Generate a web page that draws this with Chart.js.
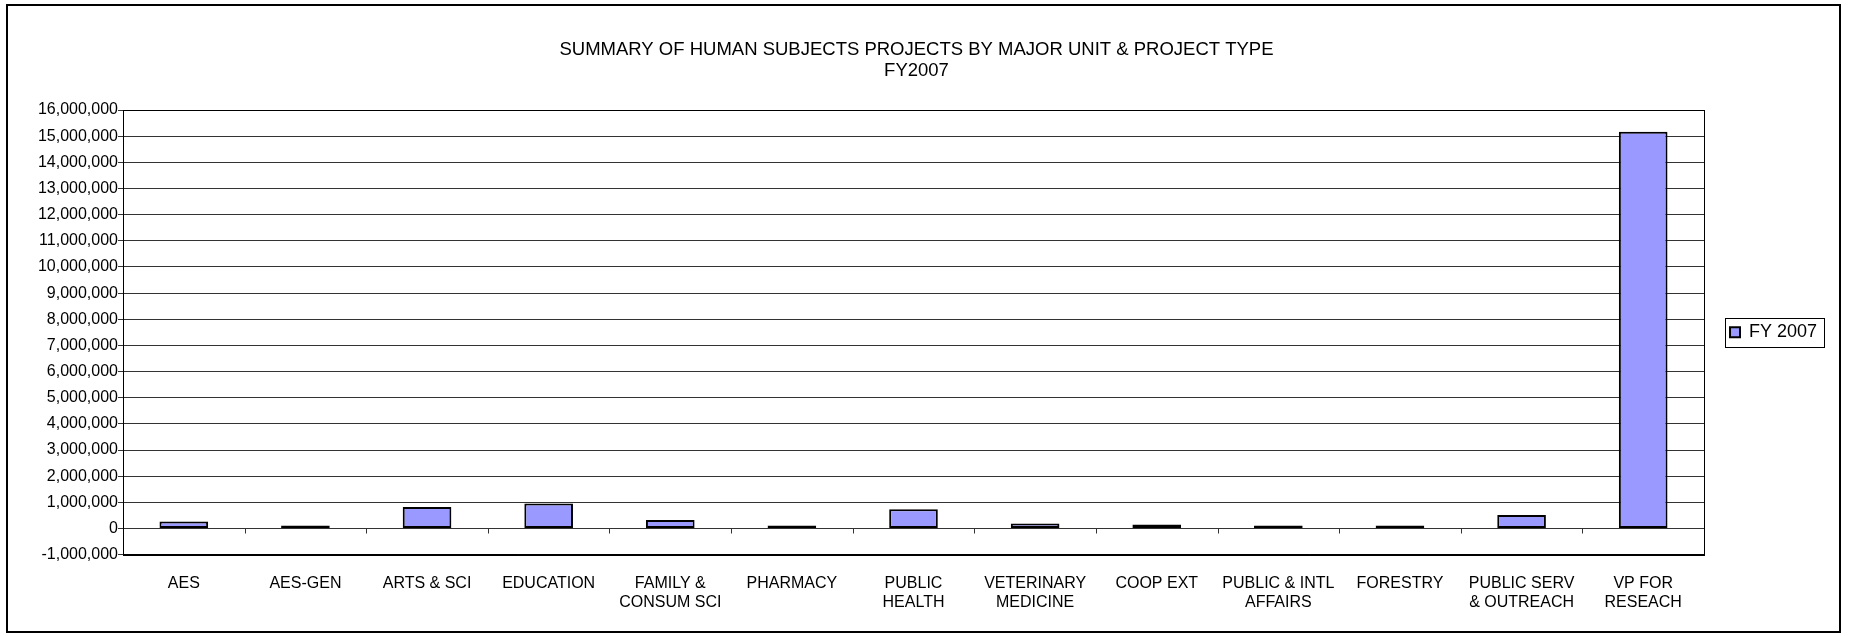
<!DOCTYPE html>
<html>
<head>
<meta charset="utf-8">
<title>Human Subjects Projects FY2007</title>
<script src="https://cdn.jsdelivr.net/npm/chart.js@4.4.0/dist/chart.umd.min.js"></script>
<style>
  html, body { margin: 0; padding: 0; background: #fff; }
  #frame { position: absolute; left: 6px; top: 4px; width: 1831px; height: 625px; border: 2px solid #000; }
  canvas { display: block; }
</style>
</head>
<body>
<div id="frame"><canvas id="unitChart" width="1831" height="625"></canvas></div>
<script>
// chart data
const units = [
	['AES'], ['AES-GEN'], ['ARTS & SCI'], ['EDUCATION'], ['FAMILY &', 'CONSUM SCI'],
	['PHARMACY'], ['PUBLIC', 'HEALTH'], ['VETERINARY', 'MEDICINE'], ['COOP EXT'],
	['PUBLIC & INTL', 'AFFAIRS'], ['FORESTRY'], ['PUBLIC SERV', '& OUTREACH'], ['VP FOR', 'RESEACH'],
];
const fy2007 = [270000, 30000, 820000, 950000, 320000, 70000, 730000, 190000, 150000, 110000, 40000, 510000, 15170000];
const seriesName = 'FY 2007';
const titleLines = ['SUMMARY OF HUMAN SUBJECTS PROJECTS BY MAJOR UNIT & PROJECT TYPE', 'FY2007'];
const yMin = -1000000;
const yMax = 16000000;
const yStep = 1000000;

const fontFamily = "'Liberation Sans', Arial, sans-serif";
Chart.defaults.color = '#000';
Chart.defaults.font.family = fontFamily;

// plot frame, small ticks on the zero line, box round the legend
const chartExtras = {
	id: 'chartExtras',
	afterDraw(chart) {
		const ctx = chart.ctx;
		const area = chart.chartArea;
		const x = chart.scales.x;
		const y = chart.scales.y;
		ctx.save();
		ctx.strokeStyle = '#000';
		ctx.lineWidth = 1;
		ctx.strokeRect(Math.round(area.left) + 0.5, Math.round(area.top) + 0.5,
			Math.round(area.right - area.left), Math.round(area.bottom - area.top));

		const zero = Math.round(y.getPixelForValue(0)) + 0.5;
		const step = x.width / units.length;
		ctx.strokeStyle = '#333';
		ctx.beginPath();
		for (let i = 1; i < units.length; i++) {
			const px = Math.round(x.left + i * step) + 0.5;
			ctx.moveTo(px, zero);
			ctx.lineTo(px, zero + 5);
		}
		ctx.stroke();

		const hb = chart.legend.legendHitBoxes[0];
		if (hb) {
			ctx.strokeStyle = '#000';
			const cy = hb.top + hb.height / 2;
			ctx.strokeRect(Math.round(hb.left - 5) + 0.5, Math.round(cy - 14.5) + 0.5, Math.round(hb.width + 12), 29);
		}
		ctx.restore();
	},
};

const chart = new Chart(document.getElementById('unitChart').getContext('2d'), {
	type: 'bar',
	data: {
		labels: units,
		datasets: [
			{
				label: seriesName,
				data: fy2007,
				backgroundColor: '#9999FF',
				borderColor: '#000',
				borderWidth: 2,
				borderSkipped: false,
				minBarLength: 3,
				categoryPercentage: 1,
				barPercentage: 0.4,
			},
		],
	},
	options: {
		responsive: false,
		animation: false,
		layout: { padding: { left: 0, right: 14, top: 0, bottom: 0 } },
		plugins: {
			tooltip: { enabled: false },
			title: {
				display: true,
				text: titleLines,
				color: '#000',
				font: { size: 18.5, weight: 'normal', lineHeight: 1.15 },
				padding: { top: 33, bottom: 28.5 },
			},
			legend: {
				position: 'right',
				fullSize: false,
				maxWidth: 121,
				labels: {
					boxWidth: 10,
					boxHeight: 10,
					padding: 26,
					color: '#000',
					font: { size: 18 },
				},
			},
		},
		scales: {
			x: {
				grid: { display: false, drawTicks: false },
				border: { display: true, color: '#000', width: 1 },
				ticks: {
					autoSkip: false,
					maxRotation: 0,
					padding: 19,
					color: '#000',
					font: { size: 16, lineHeight: 1.2 },
				},
			},
			y: {
				min: yMin,
				max: yMax,
				afterFit(scale) {
					scale.width = 115;
				},
				grid: { color: '#333', lineWidth: 1, tickLength: 5 },
				border: { display: true, color: '#000', width: 1 },
				ticks: {
					stepSize: yStep,
					padding: 0,
					color: '#000',
					font: { size: 16 },
					callback: (v) => v.toLocaleString('en-US'),
				},
			},
		},
	},
	plugins: [chartExtras],
});
</script>
</body>
</html>
